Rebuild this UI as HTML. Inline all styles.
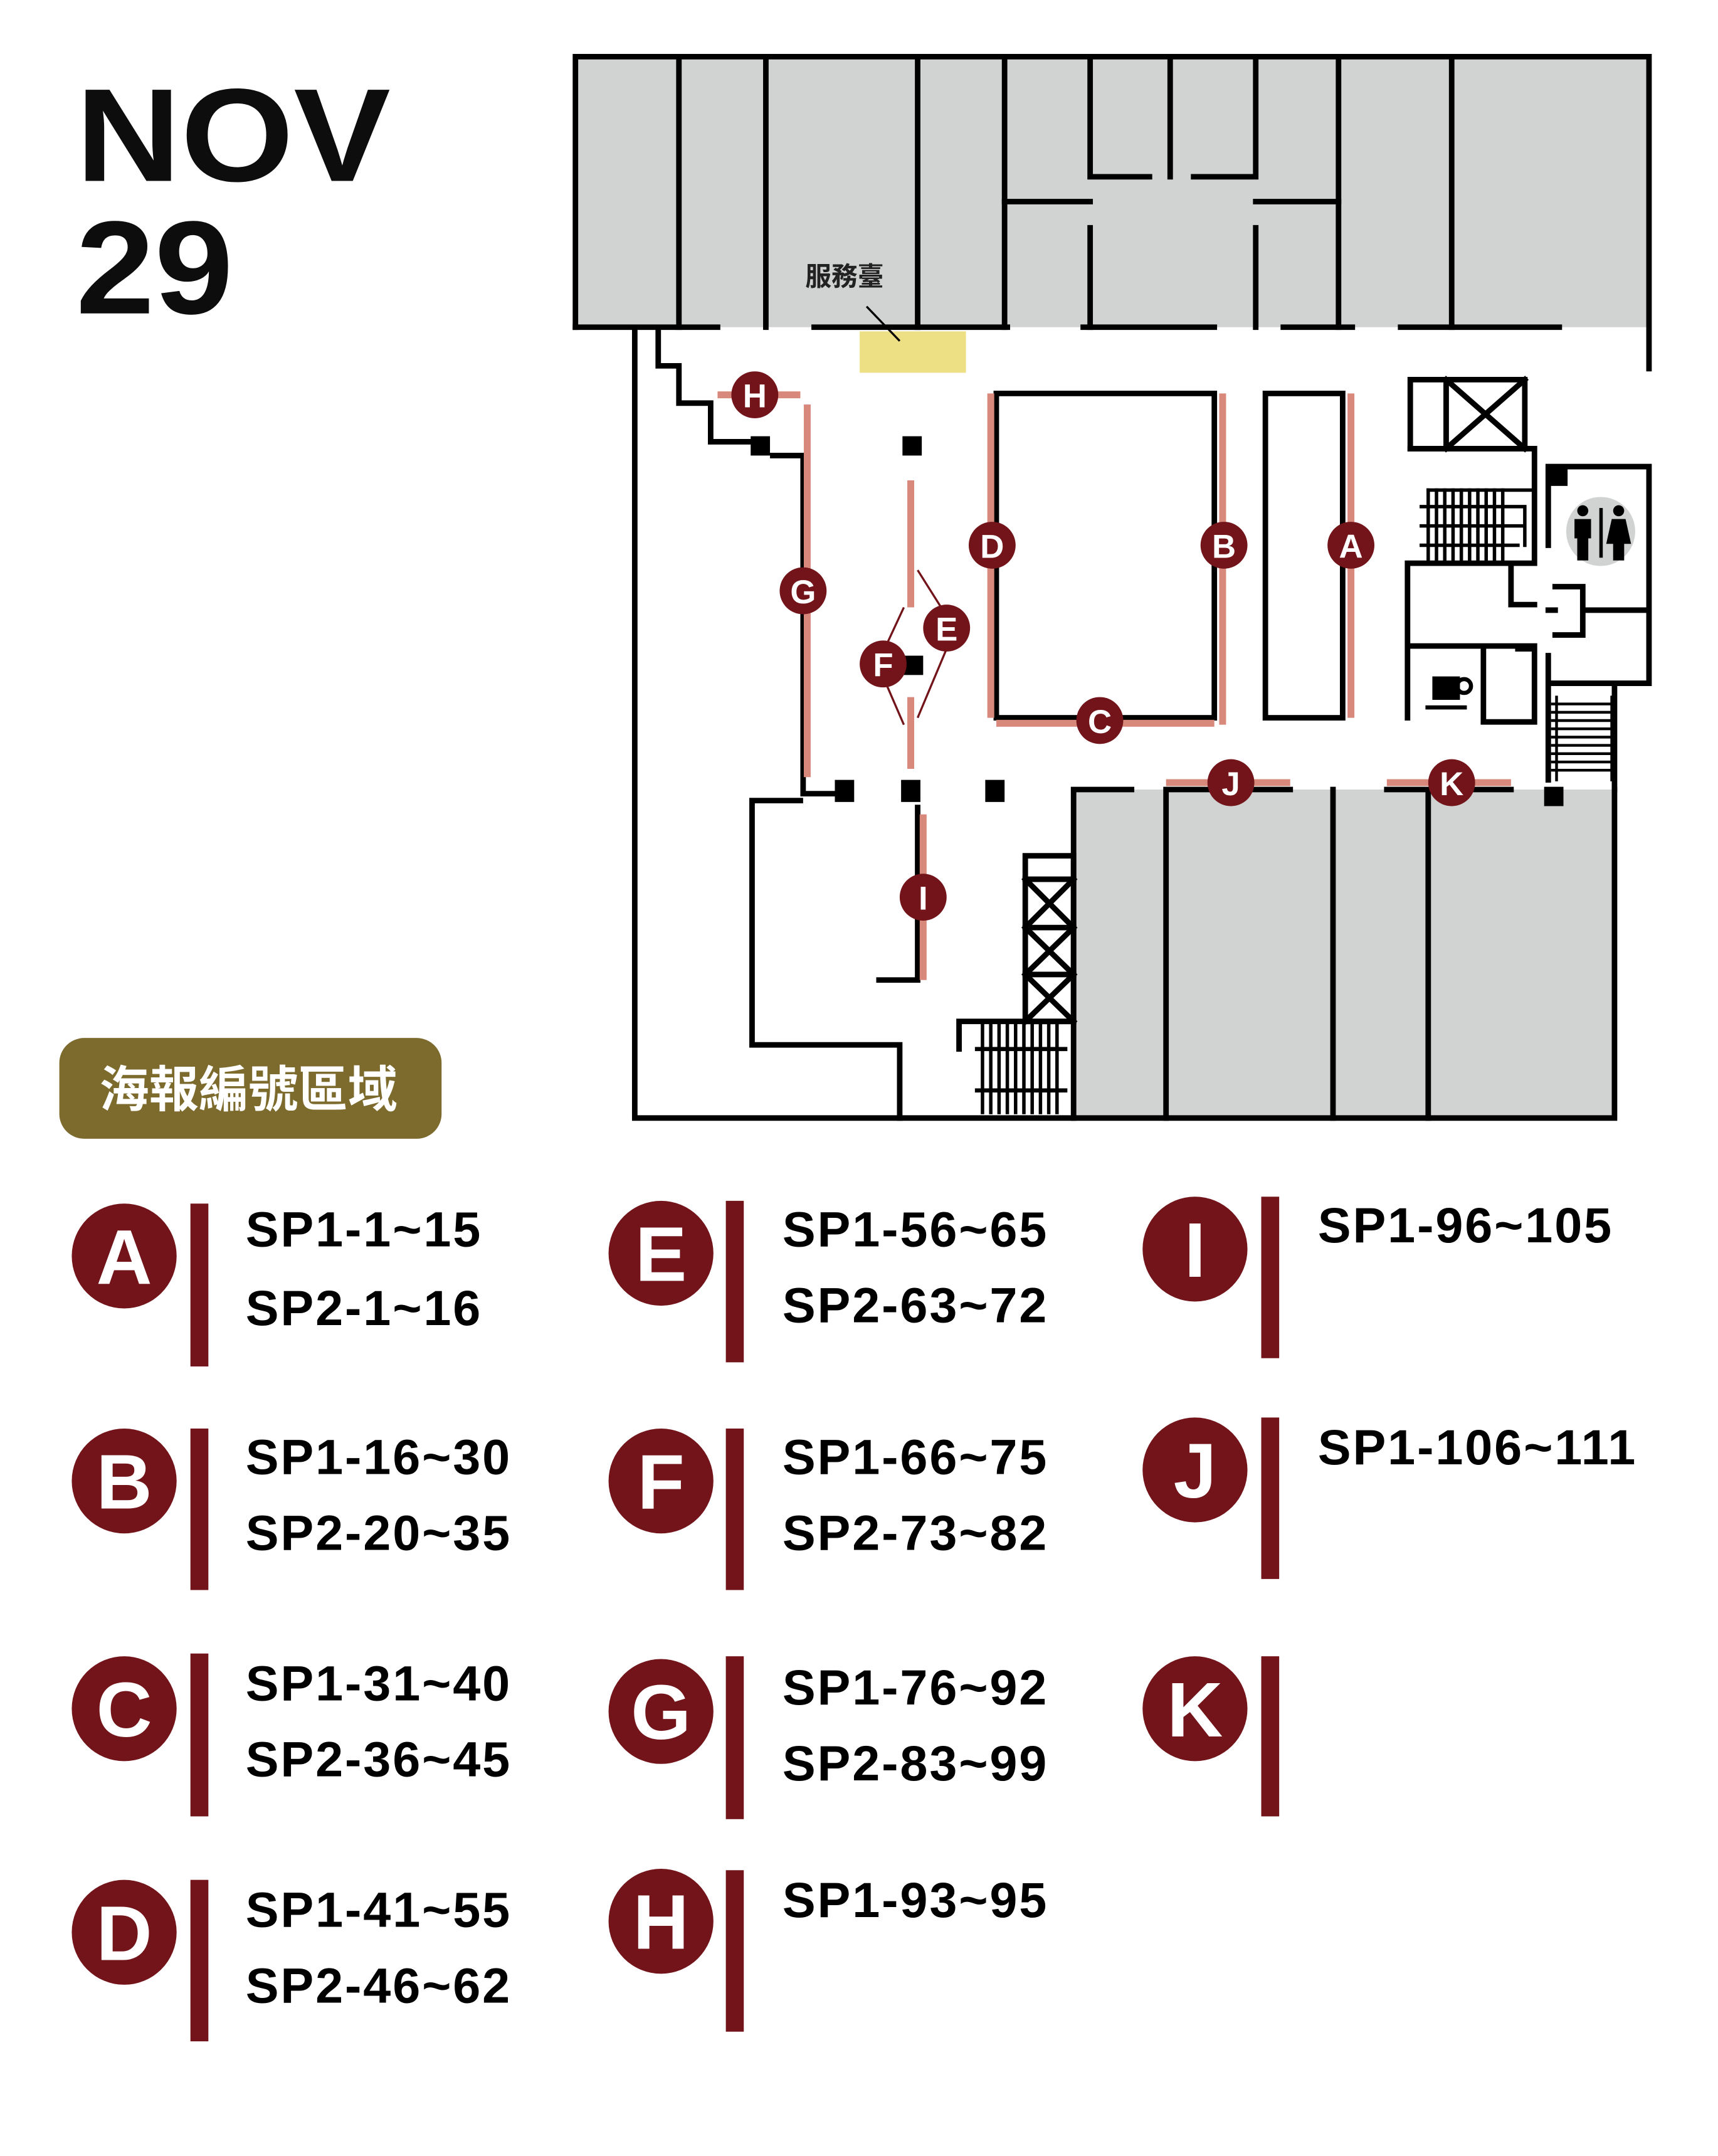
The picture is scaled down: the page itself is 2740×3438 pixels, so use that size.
<!DOCTYPE html>
<html><head><meta charset="utf-8"><style>
html,body{margin:0;padding:0;background:#fff}
svg{display:block}
</style></head><body>
<svg width="2740" height="3438" viewBox="0 0 1245 1562" xmlns="http://www.w3.org/2000/svg" font-family="'Liberation Sans','Noto Sans CJK TC',sans-serif">
<rect width="1245" height="1562" fill="#fff"/>
<text x="55" y="131" font-size="96" font-weight="bold" fill="#0d0d0d" textLength="228" lengthAdjust="spacingAndGlyphs">NOV</text>
<text x="55" y="227" font-size="96" font-weight="bold" fill="#0d0d0d" textLength="114" lengthAdjust="spacingAndGlyphs">29</text>

<rect x="417" y="41" width="778" height="196" fill="#d1d3d2"/>
<rect x="778" y="572" width="392" height="238" fill="#d1d3d2"/>
<rect x="623" y="240" width="77" height="30" fill="#ede084"/>

<g stroke="#000" stroke-width="4" fill="none" stroke-linecap="square">
<path d="M417 41H1195V267M417 41V237"/>
<path d="M417 237H520M590 237H730M785 237H880M930 237H980M1015 237H1130"/>
<path d="M492 41V237M555 41V237M665 41V237M728 41V237M970 41V237M1052 41V237"/>
<path d="M790 41V128H833M848 41V128M865 128H910V41"/>
<path d="M728 146H790M910 146H970M790 165V237M910 165V237"/>
<path d="M460 240V810H1170V572"/>
<path d="M477 240V265H492V292H515V320H548M560 330H582V575H610"/>
<path d="M545 580V757H652V810M545 580H580"/>
<path d="M665 585V710H637"/>
<rect x="722" y="285" width="158" height="235"/>
<rect x="917" y="285" width="56" height="235"/>
<path d="M778 810V572H820M845 572H935M1005 572H1095M845 572V810M966 572V810M1035 572V810"/>
<rect x="743" y="620" width="35" height="120"/>
<path d="M743 637H778M743 672H778M743 706H778M743 637L778 672M778 637L743 672M743 672L778 706M778 672L743 706M743 706L778 740M778 706L743 740"/>
<path d="M695 760V740H778"/>
<path d="M712 742V806M718 742V806M724 742V806M730 742V806M736 742V806M742 742V806M748 742V806M754 742V806M760 742V806M766 742V806" stroke-width="2.5"/>
<path d="M708 760H772M708 790H772" stroke-width="3"/>
<rect x="1022" y="275" width="83" height="50"/>
<path d="M1048 275V325M1048 275L1105 325M1105 275L1048 325"/>
<path d="M1022 325H1112V408M1020 408H1112M1095 408V438H1112M1020 408V468H1112M1020 468V520M1075 470V523H1112V470M1112 470H1100"/>
<path d="M1035 355V406M1041 355V406M1047 355V406M1053 355V406M1059 355V406M1065 355V406M1071 355V406M1077 355V406M1083 355V406M1089 355V406" stroke-width="2.5"/>
<path d="M1035 355H1110M1030 367H1105M1030 381H1105M1030 395H1100M1105 367V395" stroke-width="2.5"/>
<path d="M1122 395V338H1195V495M1127 425H1147V460H1127M1147 442H1195M1122 442H1127M1122 475V565M1122 495H1195M1170 495V572"/>
<path d="M1128 505V565M1168 505V565" stroke-width="2"/>
<path d="M1125 510H1168M1125 516H1168M1125 522H1168M1125 528H1168M1125 534H1168M1125 540H1168M1125 546H1168M1125 552H1168M1125 558H1168" stroke-width="2"/>
</g>
<rect x="1122" y="338" width="14" height="14" fill="#000"/>
<circle cx="1160" cy="385" r="25" fill="#d1d3d2"/>
<g fill="#000"><circle cx="1147" cy="370" r="4"/><rect x="1141" y="376" width="12" height="14"/><rect x="1143" y="388" width="8" height="18"/><rect x="1159" y="368" width="2.5" height="36"/><circle cx="1173" cy="370" r="4"/><path d="M1168 376H1178L1182 394H1164Z"/><rect x="1169" y="392" width="8" height="14"/></g>
<path d="M1038 490H1058V507H1038Z" fill="#000"/><circle cx="1061" cy="497" r="5" stroke="#000" stroke-width="3" fill="none"/><rect x="1033" y="511" width="30" height="3" fill="#000"/>

<g stroke="#d9897c" stroke-width="5" fill="none">
<path d="M520 286H580M585 293V563M660 348V440M660 505V557M718 285V520M886 285V525M722 524H880M979 285V520M669 590V710M845 567H935M1005 567H1095"/>
</g>
<g stroke="#72141a" stroke-width="1.5"><path d="M665 413L682 440M686 470L665 520M655 440L642 468M642 495L655 525"/></g>
<g fill="#000"><rect x="544" y="316" width="14" height="14"/><rect x="654" y="316" width="14" height="14"/><rect x="605" y="565" width="14" height="16"/><rect x="653" y="565" width="14" height="16"/><rect x="714" y="565" width="14" height="16"/><rect x="1119" y="570" width="14" height="14"/><rect x="655" y="475" width="14" height="14"/></g>

<g font-weight="bold" font-size="24" text-anchor="middle" fill="#fff">
<g fill="#72141a"><circle cx="547" cy="286" r="17"/><circle cx="582" cy="428" r="17"/><circle cx="686" cy="455" r="17"/><circle cx="640" cy="481" r="17"/><circle cx="719" cy="395" r="17"/><circle cx="887" cy="395" r="17"/><circle cx="979" cy="395" r="17"/><circle cx="797" cy="522" r="17"/><circle cx="892" cy="567" r="17"/><circle cx="1052" cy="567" r="17"/><circle cx="669" cy="650" r="17"/></g>
<text x="547" y="295">H</text><text x="582" y="437">G</text><text x="686" y="464">E</text><text x="640" y="490">F</text><text x="719" y="404">D</text><text x="887" y="404">B</text><text x="979" y="404">A</text><text x="797" y="531">C</text><text x="892" y="576">J</text><text x="1052" y="576">K</text><text x="669" y="659">I</text>
</g>
<text x="612" y="207" font-size="19" font-weight="bold" text-anchor="middle" fill="#222">服務臺</text>
<path d="M628 222L652 247" stroke="#000" stroke-width="1.5"/>

<rect x="43" y="752" width="277" height="73" rx="18" fill="#7d6b2d"/>
<text x="180" y="802" font-size="36" font-weight="bold" fill="#fff" text-anchor="middle">海報編號區域</text>

<g fill="#72141a">
<circle cx="90" cy="910" r="38"/><rect x="138" y="872" width="13" height="118"/>
<circle cx="90" cy="1073" r="38"/><rect x="138" y="1035" width="13" height="117"/>
<circle cx="90" cy="1238" r="38"/><rect x="138" y="1198" width="13" height="118"/>
<circle cx="90" cy="1400" r="38"/><rect x="138" y="1362" width="13" height="117"/>
<circle cx="479" cy="908" r="38"/><rect x="526" y="870" width="13" height="117"/>
<circle cx="479" cy="1073" r="38"/><rect x="526" y="1035" width="13" height="117"/>
<circle cx="479" cy="1240" r="38"/><rect x="526" y="1200" width="13" height="118"/>
<circle cx="479" cy="1392" r="38"/><rect x="526" y="1355" width="13" height="117"/>
<circle cx="866" cy="905" r="38"/><rect x="914" y="867" width="13" height="117"/>
<circle cx="866" cy="1065" r="38"/><rect x="914" y="1027" width="13" height="117"/>
<circle cx="866" cy="1238" r="38"/><rect x="914" y="1200" width="13" height="116"/>
</g>
<g fill="#fff" font-size="56" font-weight="bold" text-anchor="middle">
<text x="90" y="930">A</text><text x="90" y="1093">B</text><text x="90" y="1258">C</text><text x="90" y="1420">D</text>
<text x="479" y="928">E</text><text x="479" y="1093">F</text><text x="479" y="1260">G</text><text x="479" y="1412">H</text>
<text x="866" y="925">I</text><text x="866" y="1085">J</text><text x="866" y="1258">K</text>
</g>
<g fill="#000" font-size="36" font-weight="bold" letter-spacing="1.3">
<text x="178" y="903">SP1-1~15</text><text x="178" y="960">SP2-1~16</text>
<text x="178" y="1068">SP1-16~30</text><text x="178" y="1123">SP2-20~35</text>
<text x="178" y="1232">SP1-31~40</text><text x="178" y="1287">SP2-36~45</text>
<text x="178" y="1396">SP1-41~55</text><text x="178" y="1451">SP2-46~62</text>
<text x="567" y="903">SP1-56~65</text><text x="567" y="958">SP2-63~72</text>
<text x="567" y="1068">SP1-66~75</text><text x="567" y="1123">SP2-73~82</text>
<text x="567" y="1235">SP1-76~92</text><text x="567" y="1290">SP2-83~99</text>
<text x="567" y="1389">SP1-93~95</text>
<text x="955" y="900">SP1-96~105</text>
<text x="955" y="1061">SP1-106~111</text>
</g>
</svg>
</body></html>
